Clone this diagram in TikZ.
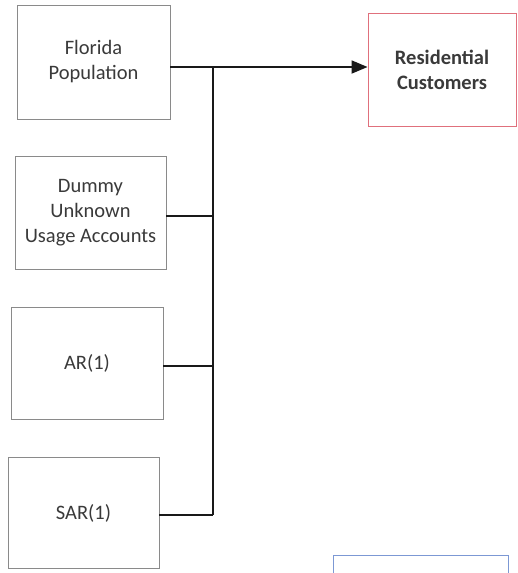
\documentclass[tikz,border=0pt]{standalone}
\usepackage{fontspec}
\setmainfont{Carlito}
\usetikzlibrary{arrows.meta}
\definecolor{boxgray}{HTML}{8A8A8A}
\definecolor{txtgray}{HTML}{3A3A3A}
\definecolor{boxred}{HTML}{E0707C}
\definecolor{boxblue}{HTML}{7C98D4}
\tikzset{
  inbox/.style={draw=boxgray, line width=0.9pt, fill=white, align=center,
    text=txtgray, font=\fontsize{20.5}{25}\selectfont, inner sep=0pt},
  outbox/.style={inbox, draw=boxred, font=\fontsize{20.5}{25}\selectfont\bfseries},
  link/.style={draw=black!90, line width=1.8pt},
  arr/.style={link, -{Triangle[length=16pt,width=13pt]}}
}
\begin{document}
\begin{tikzpicture}[x=1pt,y=-1pt]
  \useasboundingbox (0,0) rectangle (518,573);
  \clip (0,0) rectangle (518,573);
  \fill[white] (0,0) rectangle (518,573);

  % input boxes
  \node[inbox, minimum width=153pt, minimum height=114pt] (florida) at (93.5,62) {Florida\\Population};
  \node[inbox, minimum width=151pt, minimum height=113pt] (dummy) at (90.5,213) {Dummy\\Unknown\\Usage Accounts};
  \node[inbox, minimum width=152pt, minimum height=112pt] (ar) at (87,363.5) {AR(1)};
  \node[inbox, minimum width=151pt, minimum height=111pt] (sar) at (83.5,513) {SAR(1)};

  % output box
  \node[outbox, minimum width=148pt, minimum height=113pt] (resid) at (442,70) {Residential\\Customers};

  % partially visible box at the bottom
  \node[draw=boxblue, line width=0.9pt, minimum width=175pt, minimum height=60pt] (lower) at (420.5,585) {};

  % junction points on the collecting bus
  \coordinate (j1) at (213,67);
  \coordinate (j2) at (213,216);
  \coordinate (j3) at (213,366);
  \coordinate (j4) at (213,515);

  \draw[link] (j1) -- (j4);
  \draw[link] (dummy.east |- j2) -- (j2);
  \draw[link] (ar.east |- j3) -- (j3);
  \draw[link] (sar.east |- j4) -- (j4);
  \draw[arr] (florida.east |- j1) -- (resid.west |- j1);
\end{tikzpicture}
\end{document}
